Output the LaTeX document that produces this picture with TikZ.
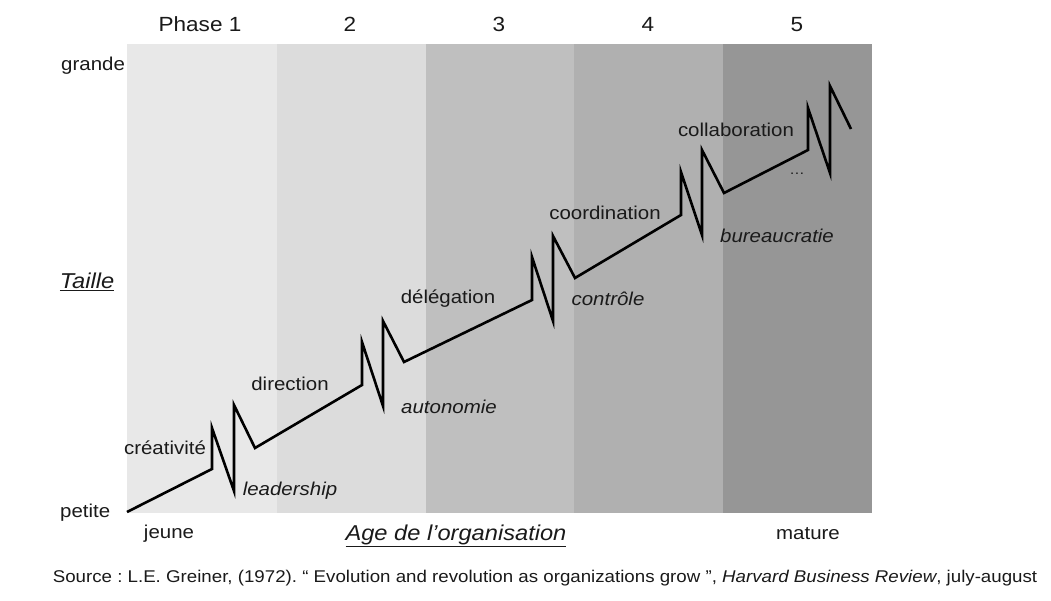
\documentclass[tikz,border=0pt]{standalone}
\usepackage{fontspec}
\setmainfont{Liberation Sans}[FakeStretch=1.1]
\frenchspacing
\definecolor{bandA}{HTML}{E8E8E8}
\definecolor{bandB}{HTML}{DCDCDC}
\definecolor{bandC}{HTML}{BFBFBF}
\definecolor{bandD}{HTML}{B0B0B0}
\definecolor{bandE}{HTML}{969696}
\definecolor{ink}{HTML}{1A1A1A}
\tikzset{
  lbl/.style={inner sep=0pt, text=ink, font=\fontsize{18.6}{22}\selectfont},
  ilbl/.style={lbl, font=\fontsize{18.6}{22}\selectfont\itshape},
  phase/.style={lbl, anchor=base, font=\fontsize{20.5}{24}\selectfont},
  axis/.style={lbl, font=\fontsize{21.5}{25}\selectfont\itshape},
  src/.style={inner sep=0pt, text=ink, font=\fontsize{17}{20}\selectfont},
  growth/.style={line width=2.6pt, line join=miter, miter limit=20},
}
\begin{document}
\begin{tikzpicture}[x=1pt,y=-1pt]
\useasboundingbox (0,0) rectangle (1051,601);
\fill[white] (0,0) rectangle (1051,601);
% phase bands
\fill[bandA] (127,44) rectangle (277,513);
\fill[bandB] (277,44) rectangle (426,513);
\fill[bandC] (426,44) rectangle (574,513);
\fill[bandD] (574,44) rectangle (723,513);
\fill[bandE] (723,44) rectangle (872,513);
% phase labels
\node[phase] (p1) at (200,32) {Phase 1};
\node[phase] (p2) at (350,32) {2};
\node[phase] (p3) at (499,32) {3};
\node[phase] (p4) at (648,32) {4};
\node[phase] (p5) at (797,32) {5};
% axis labels
\node[lbl, anchor=west] (grande) at (61,66) {grande};
\node[lbl, anchor=west] (petite) at (60,513) {petite};
\node[axis] (taille) at (87,282) {\underline{Taille}};
\node[lbl] (jeune) at (169,534) {jeune};
\node[axis] (age) at (456,536) {\underline{Age de l’organisation}};
\node[lbl] (mature) at (808,534) {mature};
% growth curve
\draw[growth] (127,512) -- (212,469) -- (212,428) -- (234,491) -- (234,405) -- (255,448)
  -- (362,385) -- (362,342) -- (383,406) -- (383,321) -- (404,362)
  -- (532,300) -- (532,257) -- (553,321) -- (553,236) -- (575,278)
  -- (681,215) -- (681,172) -- (702,235) -- (702,150) -- (724,193)
  -- (808,150) -- (808,108) -- (830,173) -- (830,86) -- (851,129);
% evolution / revolution labels
\node[lbl] (creat) at (165,448) {créativité};
\node[ilbl] (lead) at (290,491) {leadership};
\node[lbl] (dir) at (290,384) {direction};
\node[ilbl] (auto) at (449,407) {autonomie};
\node[lbl] (deleg) at (448,299) {délégation};
\node[ilbl] (ctrl) at (608,299) {contrôle};
\node[lbl] (coord) at (605,213) {coordination};
\node[ilbl] (bureau) at (777,236) {bureaucratie};
\node[lbl] (collab) at (736,130) {collaboration};
\node[lbl, font=\fontsize{14}{16}\selectfont] (dots) at (797,174) {…};
% source
\node[src] (source) at (545,578) {Source : L.E. Greiner, (1972). “ Evolution and revolution as organizations grow ”, \textit{Harvard Business Review}, july-august};
\end{tikzpicture}
\end{document}
